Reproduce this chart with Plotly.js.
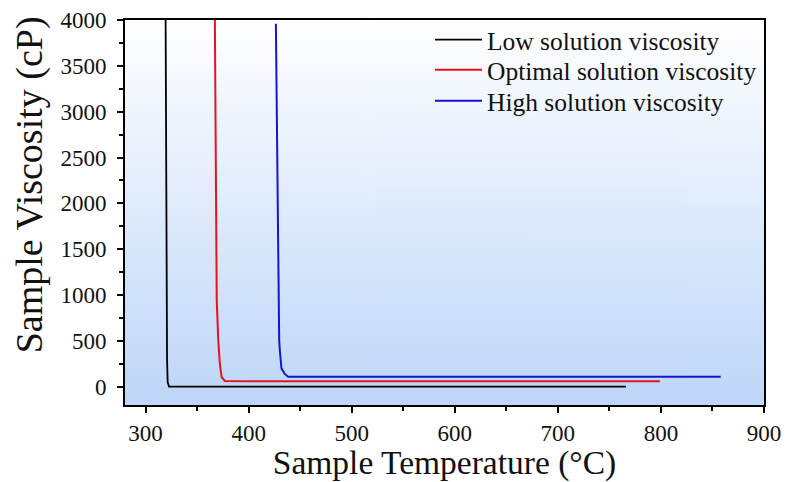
<!DOCTYPE html>
<html>
<head>
<meta charset="utf-8">
<script src="https://cdn.plot.ly/plotly-3.0.1.min.js"></script>
<style>
html,body{margin:0;padding:0;background:#fff;}
#chart{width:787px;height:482px;}
</style>
</head>
<body>
<div id="chart"></div>
<script>
// Data
const lowT = [319.4, 319.7, 320.1, 320.5, 320.8, 321.4, 322.7, 400, 500, 600, 700, 766];
const lowV = [4000, 3000, 2000, 947, 300, 50, 0, 0, 0, 0, 0, 0];

const optT = [367.2, 367.8, 368.4, 369.0, 370.5, 372.0, 373.8, 377.0, 400, 500, 600, 700, 799];
const optV = [4000, 3000, 2000, 947, 510, 250, 103, 62, 58, 58, 58, 58, 58];

const highT = [426.4, 427.2, 428.0, 429.0, 429.6, 430.2, 431.8, 435.0, 438.3, 500, 600, 700, 858];
const highV = [3960, 3000, 2000, 947, 510, 400, 200, 139, 109, 108, 108, 108, 108];

const seriesNames = ['Low solution viscosity', 'Optimal solution viscosity', 'High solution viscosity'];
const xTitle = 'Sample Temperature (°C)';
const yTitle = 'Sample Viscosity (cP)';

// gradient background image
const cv = document.createElement('canvas');
cv.width = 4; cv.height = 256;
const ctx = cv.getContext('2d');
const g = ctx.createLinearGradient(0, 0, 0, 256);
g.addColorStop(0, '#ffffff');
g.addColorStop(1, '#bed6f8');
ctx.fillStyle = g;
ctx.fillRect(0, 0, 4, 256);
const bg = cv.toDataURL('image/png');

const FONT = 'Liberation Serif, Times New Roman, serif';

const traces = [
  {x: lowT, y: lowV, name: seriesNames[0], mode: 'lines', line: {color: '#000000', width: 1.8}, legend: 'legend'},
  {x: optT, y: optV, name: seriesNames[1], mode: 'lines', line: {color: '#e3141e', width: 2}, legend: 'legend2'},
  {x: highT, y: highV, name: seriesNames[2], mode: 'lines', line: {color: '#1515cf', width: 2}, legend: 'legend3'}
];

const axisCommon = {
  showline: true, mirror: true, linecolor: '#000', linewidth: 2,
  ticks: 'outside', ticklen: 6, tickwidth: 2, tickcolor: '#000',
  showgrid: false, zeroline: false,
  tickfont: {family: FONT, size: 23, color: '#111'}
};

function leg(yc) {
  return {
    x: 0.4773, xanchor: 'left', y: yc, yanchor: 'middle',
    bgcolor: 'rgba(0,0,0,0)', borderwidth: 0,
    font: {family: FONT, size: 25.5, color: '#111'},
    itemwidth: 47
  };
}

const layout = {
  width: 787, height: 482,
  margin: {l: 125, r: 23, t: 20, b: 77},
  paper_bgcolor: '#ffffff',
  plot_bgcolor: 'rgba(0,0,0,0)',
  font: {family: FONT, color: '#111'},
  showlegend: true,
  legend: leg(0.948),
  legend2: leg(0.870),
  legend3: leg(0.789),
  images: [{
    source: bg, xref: 'paper', yref: 'paper', x: 0, y: 1, sizex: 1, sizey: 1,
    xanchor: 'left', yanchor: 'top', sizing: 'stretch', layer: 'below'
  }],
  annotations: [{
    text: yTitle, textangle: -90, showarrow: false,
    xref: 'paper', yref: 'paper', x: -0.150, y: 0.571,
    xanchor: 'center', yanchor: 'middle',
    font: {family: FONT, size: 38, color: '#111'}
  }],
  xaxis: Object.assign({}, axisCommon, {
    range: [280, 900], dtick: 100, tick0: 300,
    minor: {dtick: 50, ticklen: 4, tickwidth: 2, tickcolor: '#000', ticks: 'outside'},
    ticklabelstandoff: 0,
    title: {text: xTitle, font: {family: FONT, size: 33.5, color: '#111'}, standoff: 5}
  }),
  yaxis: Object.assign({}, axisCommon, {
    range: [-200, 4000], dtick: 500, tick0: 0,
    minor: {dtick: 250, ticklen: 4, tickwidth: 2, tickcolor: '#000', ticks: 'outside'},
    ticklabelstandoff: 6
  })
};

Plotly.newPlot('chart', traces, layout, {displayModeBar: false, staticPlot: true});
</script>
</body>
</html>
